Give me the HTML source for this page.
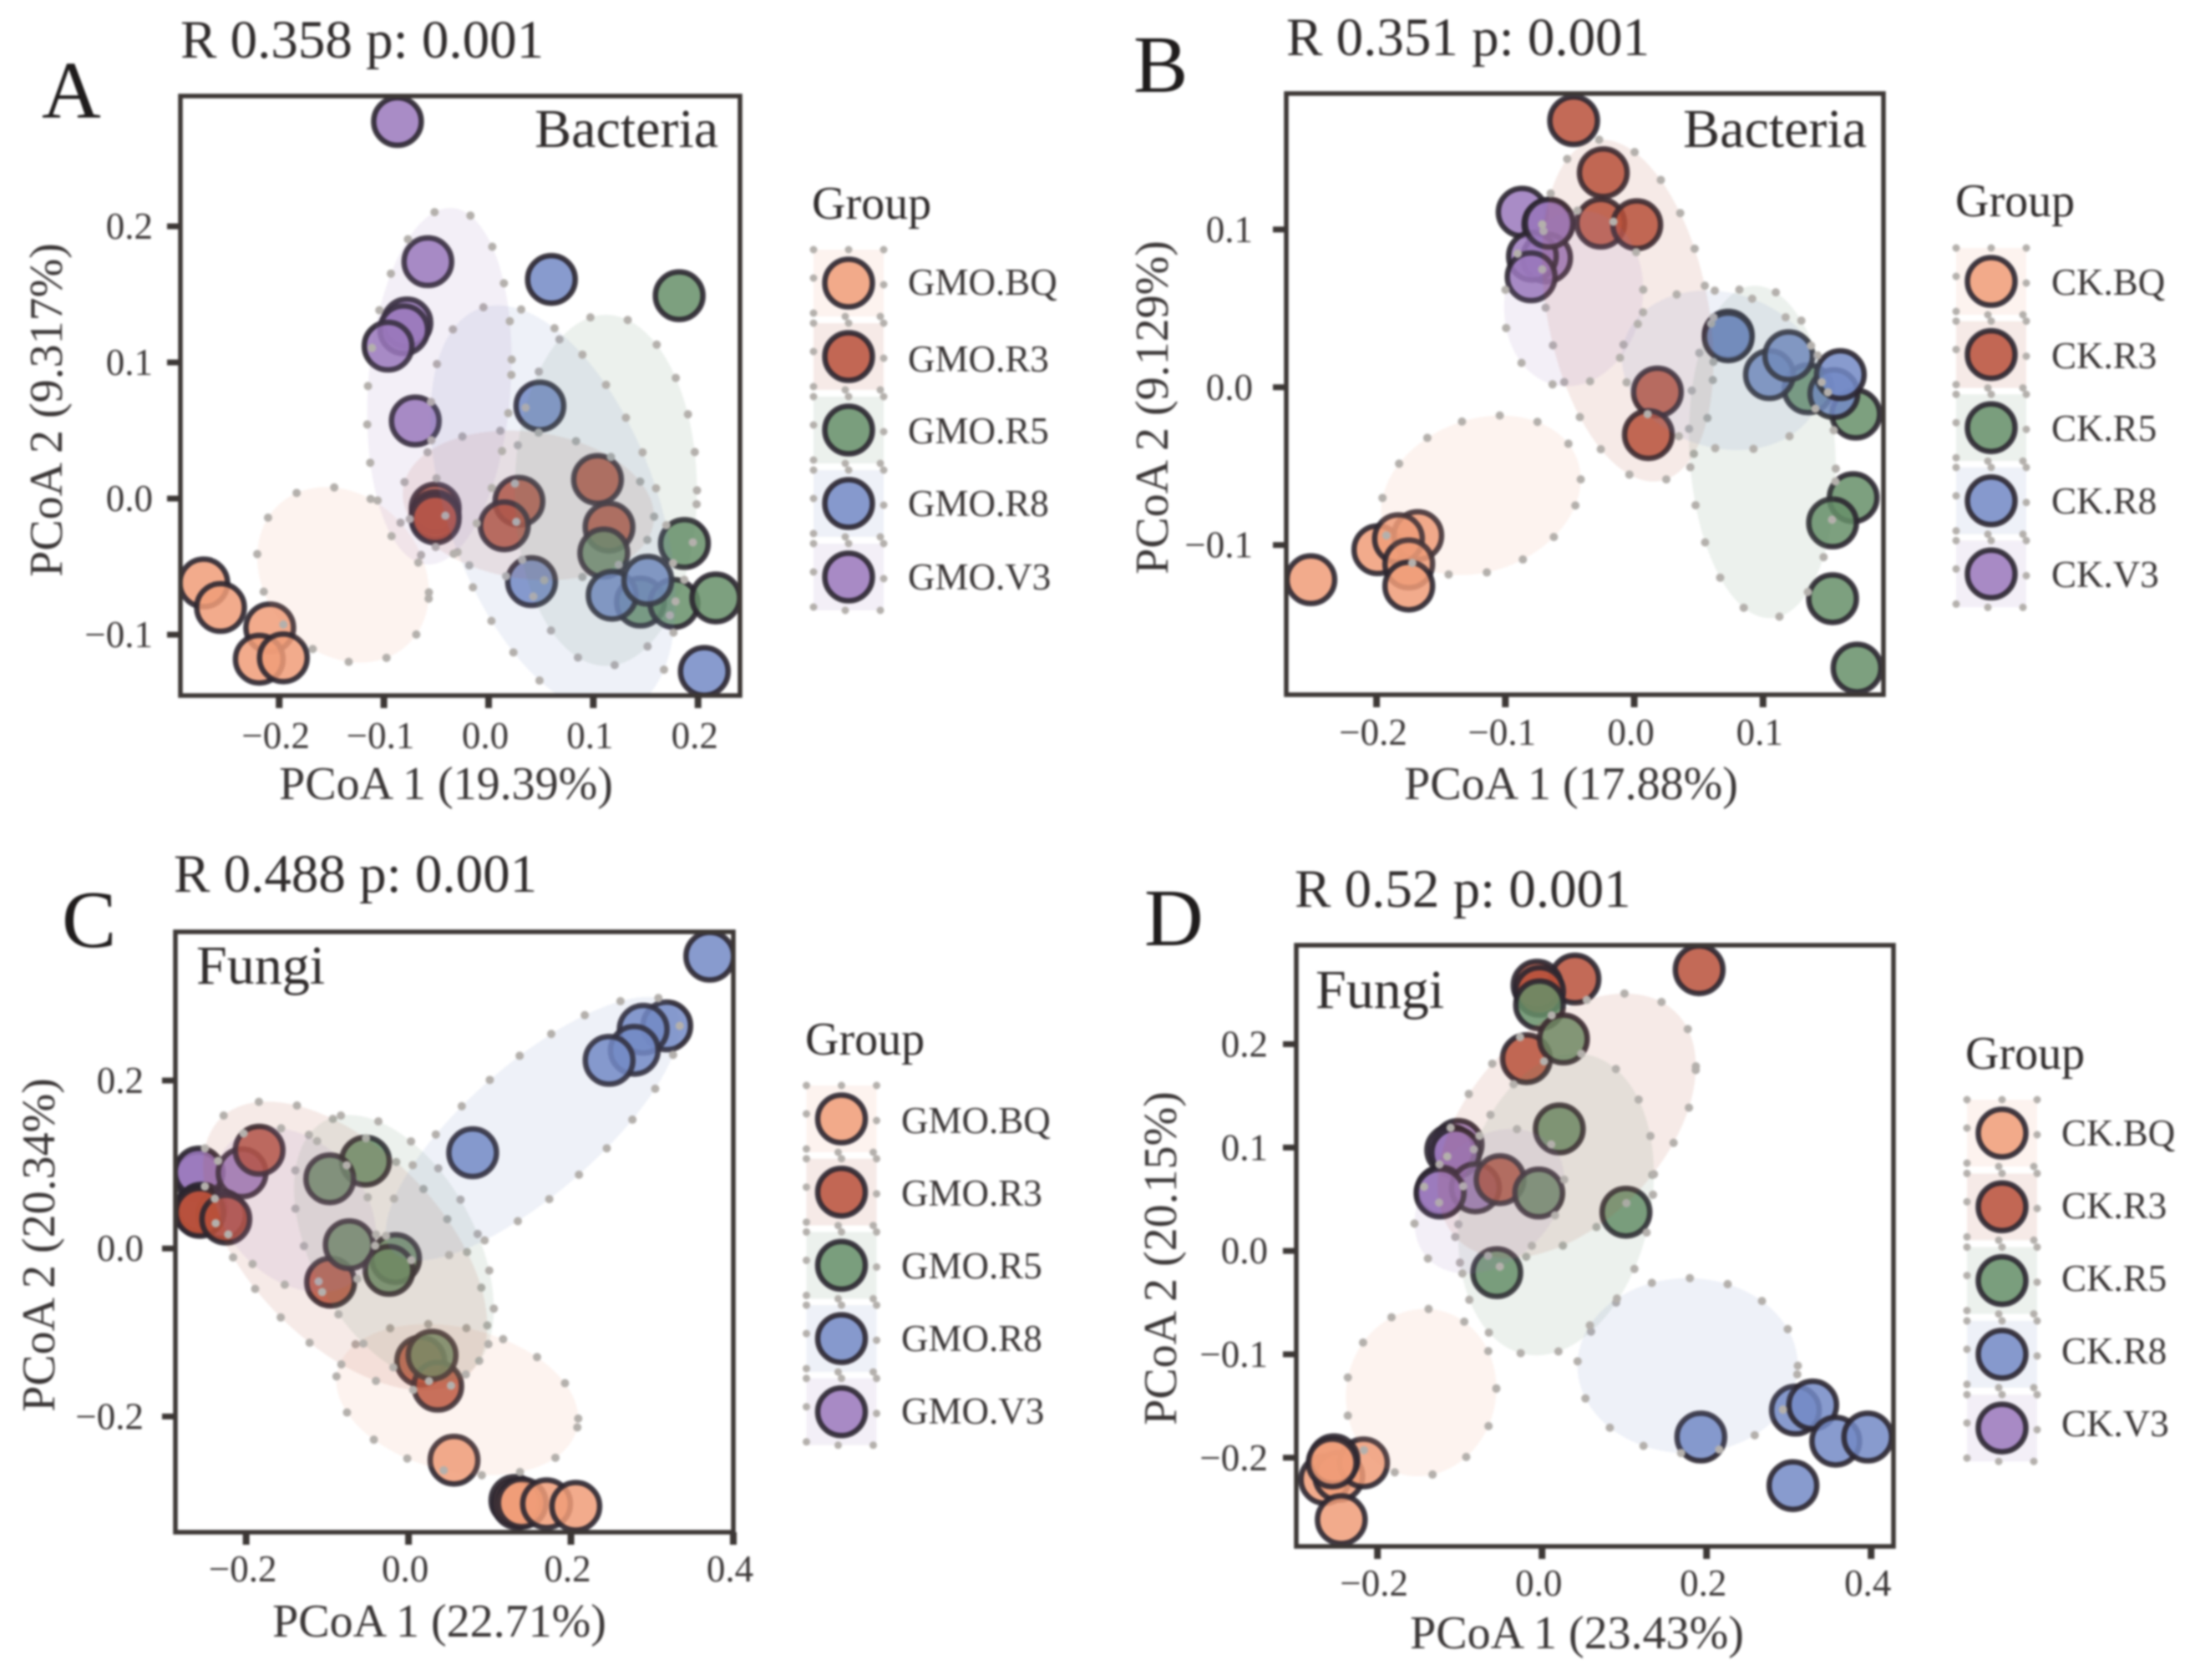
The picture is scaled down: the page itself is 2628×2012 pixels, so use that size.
<!DOCTYPE html>
<html lang="en">
<head>
<meta charset="utf-8">
<title>PCoA panels</title>
<style>
html,body{margin:0;padding:0;background:#fff;width:2628px;height:2012px;overflow:hidden}
svg{display:block;filter:blur(1.3px)}
text{font-family:"Liberation Serif",serif;fill:#2f2b2b}
.tk{font-size:45px;fill:#3a3636}
.ax{font-size:56px;fill:#3a3636}
.ti{font-size:65px}
.le{font-size:98px;fill:#1f1c1c}
.ki{font-size:66px}
.gr{font-size:56px}
.lb{font-size:45px;fill:#3a3636}
</style>
</head>
<body>
<svg id="figure" xmlns="http://www.w3.org/2000/svg" width="2628" height="2012" viewBox="0 0 2628 2012">
<rect x="0" y="0" width="2628" height="2012" fill="#ffffff"/>
<defs id="clips"></defs>

<g>
<text class="le" x="50" y="141">A</text>
<text class="ti" x="216" y="69">R 0.358 p: 0.001</text>
<g id="plot-a"></g>
<text class="ki" x="860" y="176" text-anchor="end">Bacteria</text>
<text class="ax" x="534" y="957" text-anchor="middle">PCoA 1 (19.39%)</text>
<text class="ax" transform="translate(74 491) rotate(-90)" text-anchor="middle">PCoA 2 (9.317%)</text>
<text class="gr" x="972" y="262">Group</text>
<text class="lb" x="1087" y="353">GMO.BQ</text>
<text class="lb" x="1087" y="445">GMO.R3</text>
<text class="lb" x="1087" y="531">GMO.R5</text>
<text class="lb" x="1087" y="618">GMO.R8</text>
<text class="lb" x="1087" y="706">GMO.V3</text>
</g>

<g>
<text class="le" x="1357" y="110">B</text>
<text class="ti" x="1540" y="66">R 0.351 p: 0.001</text>
<g id="plot-b"></g>
<text class="ki" x="2235" y="176" text-anchor="end">Bacteria</text>
<text class="ax" x="1881" y="957" text-anchor="middle">PCoA 1 (17.88%)</text>
<text class="ax" transform="translate(1398 488) rotate(-90)" text-anchor="middle">PCoA 2 (9.129%)</text>
<text class="gr" x="2341" y="259">Group</text>
<text class="lb" x="2456" y="353">CK.BQ</text>
<text class="lb" x="2456" y="441">CK.R3</text>
<text class="lb" x="2456" y="528">CK.R5</text>
<text class="lb" x="2456" y="615">CK.R8</text>
<text class="lb" x="2456" y="703">CK.V3</text>
</g>

<g>
<text class="le" x="74" y="1134">C</text>
<text class="ti" x="208" y="1068">R 0.488 p: 0.001</text>
<g id="plot-c"></g>
<text class="ki" x="235" y="1178">Fungi</text>
<text class="ax" x="526" y="1960" text-anchor="middle">PCoA 1 (22.71%)</text>
<text class="ax" transform="translate(65 1491) rotate(-90)" text-anchor="middle">PCoA 2 (20.34%)</text>
<text class="gr" x="964" y="1263">Group</text>
<text class="lb" x="1079" y="1357">GMO.BQ</text>
<text class="lb" x="1079" y="1444">GMO.R3</text>
<text class="lb" x="1079" y="1531">GMO.R5</text>
<text class="lb" x="1079" y="1618">GMO.R8</text>
<text class="lb" x="1079" y="1705">GMO.V3</text>
</g>

<g>
<text class="le" x="1370" y="1132">D</text>
<text class="ti" x="1550" y="1086">R 0.52 p: 0.001</text>
<g id="plot-d"></g>
<text class="ki" x="1575" y="1207">Fungi</text>
<text class="ax" x="1888" y="1974" text-anchor="middle">PCoA 1 (23.43%)</text>
<text class="ax" transform="translate(1408 1507) rotate(-90)" text-anchor="middle">PCoA 2 (20.15%)</text>
<text class="gr" x="2353" y="1280">Group</text>
<text class="lb" x="2468" y="1372">CK.BQ</text>
<text class="lb" x="2468" y="1459">CK.R3</text>
<text class="lb" x="2468" y="1546">CK.R5</text>
<text class="lb" x="2468" y="1633">CK.R8</text>
<text class="lb" x="2468" y="1720">CK.V3</text>
</g>
</svg>

<script>
/* ---------- Panel A data ---------- */
const aXTicks = [-0.2, -0.1, 0, 0.1, 0.2];
const aYTicks = [-0.1, 0, 0.1, 0.2];
const aBqX = [-0.272, -0.256, -0.209, -0.219, -0.196];
const aBqY = [-0.062, -0.080, -0.095, -0.118, -0.117];
const aR3X = [-0.051, -0.051, -0.051, 0.029, 0.015, 0.104, 0.115];
const aR3Y = [-0.007, -0.0125, -0.015, -0.002, -0.020, 0.014, -0.021];
const aR5X = [0.182, 0.187, 0.110, 0.145, 0.177, 0.217];
const aR5Y = [0.149, -0.033, -0.040, -0.076, -0.077, -0.073];
const aR8X = [0.060, 0.049, 0.041, 0.118, 0.152, 0.206];
const aR8Y = [0.161, 0.068, -0.061, -0.071, -0.060, -0.127];
const aV3X = [-0.087, -0.058, -0.078, -0.081, -0.096, -0.070];
const aV3Y = [0.277, 0.174, 0.129, 0.124, 0.112, 0.057];
const aEllCx = [-0.139, 0.038, 0.112, 0.0615, -0.047];
const aEllCy = [-0.056, -0.005, 0.006, -0.008, 0.0825];
const aEllHw = [0.082, 0.120, 0.087, 0.117, 0.069];
const aEllHh = [0.0645, 0.055, 0.129, 0.150, 0.131];
const aEllRho = [-0.20, -0.15, 0.0, -0.45, 0.15];

/* ---------- Panel B data ---------- */
const bXTicks = [-0.2, -0.1, 0, 0.1];
const bYTicks = [-0.1, 0, 0.1];
const bBqX = [-0.251, -0.199, -0.168, -0.183, -0.175, -0.175];
const bBqY = [-0.122, -0.103, -0.094, -0.096, -0.112, -0.126];
const bR3X = [-0.047, -0.024, -0.026, 0.002, 0.018, 0.011];
const bR3Y = [0.169, 0.136, 0.104, 0.103, -0.003, -0.030];
const bR5X = [0.135, 0.172, 0.170, 0.154, 0.154, 0.173];
const bR5Y = [-0.001, -0.017, -0.070, -0.086, -0.134, -0.178];
const bR8X = [0.073, 0.073, 0.105, 0.120, 0.155, 0.160];
const bR8Y = [0.033, 0.032, 0.008, 0.020, -0.004, 0.008];
const bV3X = [-0.087, -0.067, -0.068, -0.079, -0.080, -0.066];
const bV3Y = [0.111, 0.1035, 0.082, 0.083, 0.070, 0.104];
const bEllCx = [-0.119, -0.005, 0.0995, 0.068, -0.047];
const bEllCy = [-0.0685, 0.0486, -0.041, 0.0108, 0.0563];
const bEllHw = [0.0775, 0.0665, 0.057, 0.0775, 0.054];
const bEllHh = [0.0506, 0.1084, 0.1054, 0.0506, 0.0557];
const bEllRho = [0.20, -0.30, -0.10, -0.15, 0.10];

/* ---------- Panel C data ---------- */
const cXTicks = [-0.2, 0, 0.2, 0.4];
const cYTicks = [-0.2, 0, 0.2];
const cBqX = [0.056, 0.131, 0.134, 0.140, 0.170, 0.206];
const cBqY = [-0.252, -0.300, -0.304, -0.303, -0.304, -0.307];
const cR3X = [-0.184, -0.259, -0.257, -0.225, -0.096, 0.015, 0.036];
const cR3Y = [0.117, 0.045, 0.043, 0.035, -0.040, -0.134, -0.164];
const cR5X = [-0.053, -0.097, -0.073, -0.016, -0.024, 0.029];
const cR5Y = [0.104, 0.083, 0.0045, -0.012, -0.026, -0.127];
const cR8X = [0.371, 0.318, 0.289, 0.278, 0.247, 0.079];
const cR8Y = [0.348, 0.265, 0.261, 0.236, 0.224, 0.114];
const cV3X = [-0.259, -0.258, -0.205, -0.255, -0.230];
const cV3Y = [0.087, 0.091, 0.090, 0.048, 0.040];
const cEllCx = [0.06, -0.078, -0.018, 0.153, -0.14];
const cEllCy = [-0.18, 0.003, 0.0, 0.1426, 0.046];
const cEllHw = [0.149, 0.175, 0.123, 0.181, 0.10];
const cEllHh = [0.09, 0.172, 0.159, 0.157, 0.098];
const cEllRho = [-0.25, -0.55, -0.45, 0.78, -0.30];

/* ---------- Panel D data ---------- */
const dXTicks = [-0.2, 0, 0.2, 0.4];
const dYTicks = [-0.2, -0.1, 0, 0.1, 0.2];
const dBqX = [-0.264, -0.247, -0.244, -0.217, -0.253, -0.255];
const dBqY = [-0.221, -0.218, -0.260, -0.205, -0.202, -0.205];
const dR3X = [0.040, -0.006, -0.003, 0.191, -0.019, -0.051];
const dR3Y = [0.263, 0.257, 0.251, 0.272, 0.186, 0.069];
const dR5X = [-0.003, 0.026, 0.021, -0.004, 0.102, -0.055];
const dR5Y = [0.238, 0.205, 0.118, 0.056, 0.0375, -0.021];
const dR8X = [0.193, 0.308, 0.329, 0.357, 0.396, 0.305];
const dR8Y = [-0.180, -0.154, -0.149, -0.184, -0.180, -0.227];
const dV3X = [-0.102, -0.111, -0.105, -0.123, -0.081, -0.124];
const dV3Y = [0.103, 0.0975, 0.095, 0.058, 0.061, 0.056];
const dEllCx = [-0.147, 0.03, 0.017, 0.177, -0.064];
const dEllCy = [-0.137, 0.121, 0.045, -0.111, 0.048];
const dEllHw = [0.0915, 0.157, 0.119, 0.134, 0.091];
const dEllHh = [0.081, 0.128, 0.146, 0.0847, 0.07];
const dEllRho = [0.05, 0.45, 0.20, 0.0, 0.30];

const groupKeys = ['bq', 'r3', 'r5', 'r8', 'v3'];
const groupColors = ['#F09C78', '#B8503A', '#668F68', '#7389C6', '#9A78BC'];
const drawOrder = [4, 0, 1, 2, 3];

const panels = [
  { key: 'a', left: 216, right: 886, top: 115, bottom: 833,
    xDomain: [-0.2943, 0.2401], yDomain: [-0.1447, 0.2957],
    xTicks: aXTicks, yTicks: aYTicks, xTickBase: 896, yTickRight: 183,
    xs: [aBqX, aR3X, aR5X, aR8X, aV3X], ys: [aBqY, aR3Y, aR5Y, aR8Y, aV3Y],
    cx: aEllCx, cy: aEllCy, hw: aEllHw, hh: aEllHh, rho: aEllRho,
    legendX: 1016, legendY: 339, legendStep: 88 },
  { key: 'b', left: 1540, right: 2255, top: 112, bottom: 832,
    xDomain: [-0.2701, 0.1935], yDomain: [-0.1949, 0.1862],
    xTicks: bXTicks, yTicks: bYTicks, xTickBase: 892, yTickRight: 1500,
    xs: [bBqX, bR3X, bR5X, bR8X, bV3X], ys: [bBqY, bR3Y, bR5Y, bR8Y, bV3Y],
    cx: bEllCx, cy: bEllCy, hw: bEllHw, hh: bEllHh, rho: bEllRho,
    legendX: 2384, legendY: 337, legendStep: 87.6 },
  { key: 'c', left: 210, right: 878, top: 1116, bottom: 1835,
    xDomain: [-0.2871, 0.4], yDomain: [-0.3378, 0.377],
    xTicks: cXTicks, yTicks: cYTicks, xTickBase: 1894, yTickRight: 172,
    xs: [cBqX, cR3X, cR5X, cR8X, cV3X], ys: [cBqY, cR3Y, cR5Y, cR8Y, cV3Y],
    cx: cEllCx, cy: cEllCy, hw: cEllHw, hh: cEllHh, rho: cEllRho,
    legendX: 1007.5, legendY: 1340, legendStep: 87.7 },
  { key: 'd', left: 1552, right: 2267, top: 1132, bottom: 1852,
    xDomain: [-0.2987, 0.4272], yDomain: [-0.2858, 0.2957],
    xTicks: dXTicks, yTicks: dYTicks, xTickBase: 1911, yTickRight: 1518,
    xs: [dBqX, dR3X, dR5X, dR8X, dV3X], ys: [dBqY, dR3Y, dR5Y, dR8Y, dV3Y],
    cx: dEllCx, cy: dEllCy, hw: dEllHw, hh: dEllHh, rho: dEllRho,
    legendX: 2397, legendY: 1357, legendStep: 88.3 }
];

const NS = 'http://www.w3.org/2000/svg';
function make(tag, attrs, parent) {
  const el = document.createElementNS(NS, tag);
  for (const k in attrs) el.setAttribute(k, attrs[k]);
  parent.appendChild(el);
  return el;
}
function linear(domain, a, b) {
  return v => a + (v - domain[0]) / (domain[1] - domain[0]) * (b - a);
}
function tickText(v) {
  const s = Math.abs(v).toFixed(1);
  return (v < -1e-9 ? '\u2212' : '') + s;
}

panels.forEach(p => {
  const root = document.getElementById('plot-' + p.key);
  const xScale = linear(p.xDomain, p.left, p.right);
  const yScale = linear(p.yDomain, p.bottom, p.top);

  const clip = make('clipPath', { id: 'clip-' + p.key }, document.getElementById('clips'));
  make('rect', { x: p.left, y: p.top, width: p.right - p.left, height: p.bottom - p.top }, clip);

  const inner = make('g', { 'clip-path': 'url(#clip-' + p.key + ')' }, root);

  /* markers */
  drawOrder.forEach(gi => {
    const g = groupKeys[gi];
    p.xs[gi].forEach((xv, i) => {
      const c = make('circle', {
        cx: xScale(xv), cy: yScale(p.ys[gi][i]), r: 28.5,
        fill: groupColors[gi], 'fill-opacity': 0.85,
        stroke: '#2b2630', 'stroke-opacity': 0.9, 'stroke-width': 6.5
      }, inner);
      
      
    });
  });

  /* confidence ellipses, drawn over the markers */
  groupKeys.forEach((g, gi) => {
    const phi = Math.acos(p.rho[gi]);
    let d = '';
    for (let k = 0; k < 96; k++) {
      const t = k / 96 * 2 * Math.PI;
      const xv = p.cx[gi] + p.hw[gi] * Math.cos(t);
      const yv = p.cy[gi] + p.hh[gi] * Math.cos(t - phi);
      d += (k ? 'L' : 'M') + xScale(xv).toFixed(1) + ' ' + yScale(yv).toFixed(1);
    }
    d += 'Z';
    const fillEl = make('path', { d: d, fill: groupColors[gi], 'fill-opacity': 0.12, stroke: 'none' }, inner);
    
    
    const dots = make('path', {
      d: d, fill: 'none', stroke: '#b4b0ac', 'stroke-width': 10,
      'stroke-linecap': 'round', 'stroke-dasharray': '0 46'
    }, inner);
    
    
  });

  /* axes frame */
  const frame = make('rect', {
    x: p.left, y: p.top, width: p.right - p.left, height: p.bottom - p.top,
    fill: 'none', stroke: '#3c3735', 'stroke-width': 5.5
  }, root);
  
  

  /* ticks */
  p.xTicks.forEach(v => {
    const x = xScale(v);
    const t = make('line', { x1: x, x2: x, y1: p.bottom, y2: p.bottom + 15, stroke: '#3c3735', 'stroke-width': 8 }, root);
    
    
    const l = make('text', { class: 'tk', x: x - 4, y: p.xTickBase, 'text-anchor': 'middle' }, root);
    l.textContent = tickText(v);
    
    
  });
  p.yTicks.forEach(v => {
    const y = yScale(v);
    const t = make('line', { x1: p.left - 16, x2: p.left, y1: y, y2: y, stroke: '#3c3735', 'stroke-width': 7 }, root);
    
    
    const l = make('text', { class: 'tk', x: p.yTickRight, y: y + 15, 'text-anchor': 'end' }, root);
    l.textContent = tickText(v);
    
    
  });

  /* legend swatches */
  groupKeys.forEach((g, gi) => {
    const cy = p.legendY + gi * p.legendStep;
    const patch = make('rect', {
      x: p.legendX - 42, y: cy - 40, width: 84, height: 80,
      fill: groupColors[gi], 'fill-opacity': 0.12,
      stroke: '#b4b0ac', 'stroke-width': 9, 'stroke-linecap': 'round', 'stroke-dasharray': '0 42'
    }, root);
    
    
    const marker = make('circle', {
      cx: p.legendX, cy: cy, r: 28.5,
      fill: groupColors[gi], 'fill-opacity': 0.85,
      stroke: '#2b2630', 'stroke-opacity': 0.9, 'stroke-width': 6.5
    }, root);
    
    
  });
});
</script>
</body>
</html>
